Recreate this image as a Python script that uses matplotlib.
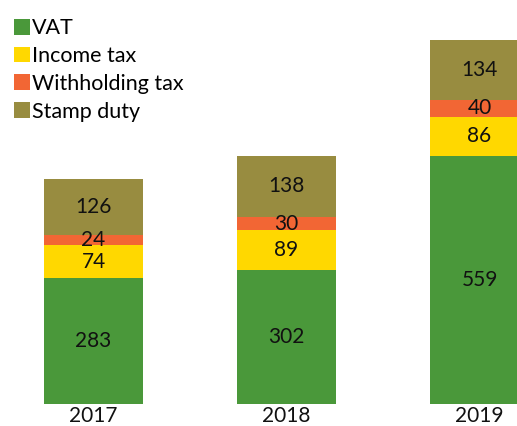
import matplotlib.pyplot as plt
from matplotlib.patches import Patch

years = ["2017", "2018", "2019"]
vat = [283, 302, 559]
income_tax = [74, 89, 86]
withholding_tax = [24, 30, 40]
stamp_duty = [126, 138, 134]

series = [
    ("VAT", vat, "#4a983a"),
    ("Income tax", income_tax, "#ffd800"),
    ("Withholding tax", withholding_tax, "#f26634"),
    ("Stamp duty", stamp_duty, "#988c40"),
]

plt.rcParams["font.family"] = ["Lato", "DejaVu Sans"]

W, H = 517, 426
fig = plt.figure(figsize=(W / 100, H / 100), dpi=100)
ax = fig.add_axes([0, 22 / H, 1, (H - 22) / H])

x = list(range(len(years)))
width = 0.513
bottom = [0] * len(years)
for name, vals, color in series:
    ax.bar(x, vals, width, bottom=bottom, color=color, label=name)
    for xi, b, v in zip(x, bottom, vals):
        ax.text(xi, b + v / 2, str(v), ha="center", va="center",
                fontsize=15, color="#111111")
    bottom = [b + v for b, v in zip(bottom, vals)]

ax.set_xlim(-0.4845, 2.1943)
ax.set_ylim(0, 909)
ax.axis("off")

for xi, yr in zip(x, years):
    ax.text(xi, -5, yr, ha="center", va="top", fontsize=15, color="#111111")

handles = [Patch(facecolor=c, label=n) for n, _, c in series]
fig.legend(handles=handles, loc="upper left", bbox_to_anchor=(10 / W, 1 - 14 / H),
           frameon=False, fontsize=15.5, handlelength=0.75, handleheight=0.75,
           handletextpad=0.08, labelspacing=0.36, borderaxespad=0, borderpad=0.2)

fig.savefig("out.png", dpi=100)
